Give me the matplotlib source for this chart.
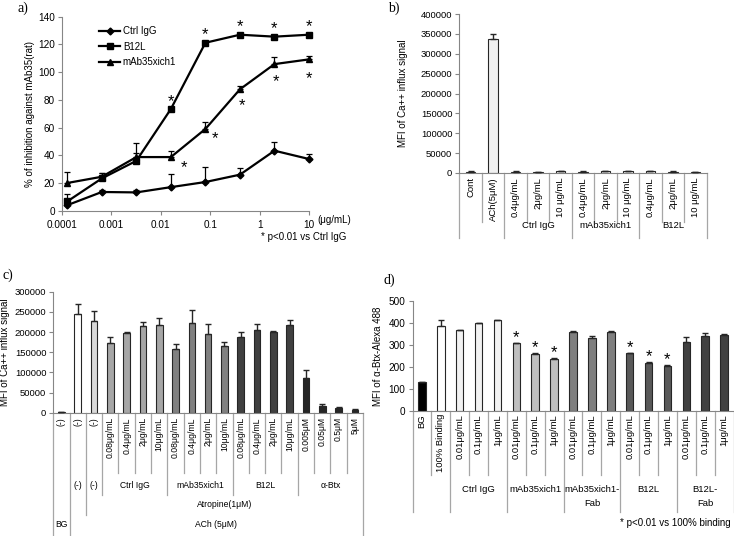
import numpy as np
import matplotlib
matplotlib.use("Agg")
import matplotlib.pyplot as plt
import matplotlib.transforms as mtransforms

# ---- panel a: inhibition curves ----
conc = [0.000128, 0.00064, 0.0032, 0.016, 0.08, 0.4, 2, 10]
ctrl = [4, 13.5, 13.2, 17, 20.7, 26, 43.3, 37.3]
ctrl_err = [1, 1.5, 2, 9.5, 10.5, 4.5, 6, 3.4]
b12l = [6.7, 23.3, 36, 73.4, 121.2, 127, 125.6, 127]
b12l_err = [5, 4, 13, 0.5, 0.5, 0.5, 0.5, 0.5]
mab = [20, 24.5, 38.7, 38.7, 59, 87.6, 105.8, 109.2]
mab_err = [8, 3, 3, 4.3, 4.7, 2.5, 4.9, 2.2]
b12l_star_idx = [3, 4, 5, 6, 7]
mab_star_idx = [3, 4, 5, 6, 7]
mab_star_off = [(12.7, -5.7), (9.3, -5.3), (2, -11), (1.3, -12.7), (0, -14.7)]  # px

# ---- panel b ----
b_cats = ["Cont", "ACh(5μM)", "0.4μg/mL", "2μg/mL", "10 μg/mL",
          "0.4μg/mL", "2μg/mL", "10 μg/mL", "0.4μg/mL", "2μg/mL", "10 μg/mL"]
b_groups = [("", 0, 1), ("Ctrl IgG", 2, 4), ("mAb35xich1", 5, 7), ("B12L", 8, 10)]
b_vals = [3000, 336000, 3000, 2500, 4500, 3500, 4000, 5000, 5000, 3500, 2500]
b_err = [1000, 14000, 800, 600, 1000, 700, 800, 900, 1000, 800, 600]

# ---- panel c ----
c_cats = ["(-)", "(-)", "(-)",
          "0.08μg/mL", "0.4μg/mL", "2μg/mL", "10μg/mL",
          "0.08μg/mL", "0.4μg/mL", "2μg/mL", "10μg/mL",
          "0.08μg/mL", "0.4μg/mL", "2μg/mL", "10μg/mL",
          "0.005μM", "0.05μM", "0.5μM", "5μM"]
c_lvl2 = [("", 0, 0), ("(-)", 1, 1), ("(-)", 2, 2), ("Ctrl IgG", 3, 6),
          ("mAb35xich1", 7, 10), ("B12L", 11, 14), ("α-Btx", 15, 18)]
c_lvl3 = [("", 0, 1), ("Atropine(1μM)", 2, 18)]
c_lvl4 = [("BG", 0, 0), ("ACh (5μM)", 1, 18)]
c_vals = [1000, 243800, 227000, 172000, 198000, 216000, 216500,
          157000, 223000, 194000, 164500, 187600, 204000, 199000, 217000,
          85000, 16500, 12000, 7400]
c_err = [0, 26000, 26000, 15000, 3000, 8000, 19500, 13000, 31000, 25000,
         11500, 13400, 16000, 4000, 12000, 22000, 5500, 2000, 1600]
c_colors = ["#000000", "#ffffff", "#d9d9d9"] + ["#a6a6a6"] * 4 + ["#808080"] * 4 \
    + ["#404040"] * 4 + ["#262626"] * 4

# ---- panel d ----
d_cats = ["BG", "100% Binding"] + ["0.01μg/mL", "0.1μg/mL", "1μg/mL"] * 5
d_groups = [("", 0, 1), ("Ctrl IgG", 2, 4), ("mAb35xich1", 5, 7),
            ("mAb35xich1-\nFab", 8, 10), ("B12L", 11, 13), ("B12L-\nFab", 14, 16)]
d_vals = [129, 386, 367, 398, 412, 307, 259, 236, 359, 333, 359, 262, 217, 206, 314, 339, 345]
d_err = [0, 28, 2, 2, 2, 3, 4, 4, 2, 9, 2, 2, 7, 3, 21, 16, 3]
d_star_idx = [5, 6, 7, 11, 12, 13]
d_colors = ["#000000", "#ffffff"] + ["#f2f2f2"] * 3 + ["#bfbfbf"] * 3 + ["#7f7f7f"] * 3 \
    + ["#595959"] * 3 + ["#404040"] * 3

W, H = 734, 536
plt.rcParams['font.family'] = ['Liberation Sans', 'DejaVu Sans']
AX_GRAY = '#868686'
SEP_GRAY = '#a6a6a6'
PT = 0.72  # points per pixel at dpi 100

fig = plt.figure(figsize=(W / 100, H / 100), dpi=100)


def fy(px):
    return 1 - px / H


def px_axes(l, t, r, b, fs):
    ax = fig.add_axes([l / W, 1 - b / H, (r - l) / W, (b - t) / H])
    for s in ('top', 'right'):
        ax.spines[s].set_visible(False)
    for s in ('left', 'bottom'):
        ax.spines[s].set_color(AX_GRAY)
        ax.spines[s].set_linewidth(0.8)
    ax.tick_params(colors=AX_GRAY, labelcolor='black', length=3, width=0.8, labelsize=fs)
    ax.tick_params(axis='y', pad=2)
    ax.patch.set_alpha(0)
    return ax


def hier_axis(ax, level1, spans, bottoms, label_top, l1_top, fs):
    n = len(level1)
    tr = mtransforms.blended_transform_factory(ax.transData, fig.transFigure)
    ax.set_xlim(-0.5, n - 0.5)
    ax.set_xticks([])
    y0 = ax.get_position().y0
    for i, lab in enumerate(level1):
        ax.text(i, fy(l1_top), lab, rotation=90, ha='center', va='top',
                transform=tr, fontsize=fs)
    bounds = [set(range(n + 1))]
    for sp in spans:
        bs = {0, n}
        for lab, i0, i1 in sp:
            bs.add(i0)
            bs.add(i1 + 1)
        bounds.append(bs)
    for k in range(n + 1):
        depth = max(L for L, bs in enumerate(bounds) if k in bs)
        ax.plot([k - 0.5, k - 0.5], [y0, fy(bottoms[depth])], color=SEP_GRAY,
                lw=0.9, transform=tr, clip_on=False)
    for L, sp in enumerate(spans):
        for lab, i0, i1 in sp:
            if lab:
                ax.text((i0 + i1) / 2, fy(label_top[L]), lab, ha='center', va='top',
                        transform=tr, fontsize=fs, linespacing=1.75)


def bars(ax, vals, err, colors, width):
    x = np.arange(len(vals))
    ax.bar(x, vals, width=width, color=colors, edgecolor='#262626', linewidth=0.8, zorder=2)
    ax.errorbar(x, vals, yerr=[np.zeros(len(vals)), err], fmt='none', ecolor='#262626',
                elinewidth=1.0, capsize=2.5, capthick=1.0, zorder=3)
    return x


def star(ax, x, y, dx_px, dy_px, fs=12):
    # asterisk glyph centre sits ~0.58 em above the baseline
    ax.annotate('*', (x, y), xytext=(dx_px * PT, dy_px * PT - 0.56 * fs),
                textcoords='offset points', ha='center', va='baseline', fontsize=fs,
                annotation_clip=False)


def panel_label(x, y, s):
    fig.text(x / W, fy(y), s, family='Liberation Serif', fontsize=10, ha='left', va='center')


# ================= a =================
ax = px_axes(62, 16.7, 309, 210.7, 7.2)
ax.set_xscale('log')
ax.set_xlim(1e-4, 10)
ax.set_ylim(0, 140)
ax.set_yticks(np.arange(0, 141, 20))
ax.set_xticks([1e-4, 1e-3, 1e-2, 1e-1, 1, 10])
ax.set_xticklabels(['0.0001', '0.001', '0.01', '0.1', '1', '10'])
ax.minorticks_off()
ax.tick_params(axis='x', pad=4)
for vals, err, m, lab in [(ctrl, ctrl_err, 'D', 'Ctrl IgG'),
                          (b12l, b12l_err, 's', 'B12L'),
                          (mab, mab_err, '^', 'mAb35xich1')]:
    ax.errorbar(conc, vals, yerr=[np.zeros(len(vals)), err], color='black', marker=m,
                ms=4.5 if m != 'D' else 3.5, lw=1.6, elinewidth=0.9, capsize=2.5,
                capthick=0.9, label=lab, clip_on=False, zorder=3)
for i in b12l_star_idx:
    star(ax, conc[i], b12l[i], 0, 12.5)
for i, (dx, dy) in zip(mab_star_idx, mab_star_off):
    star(ax, conc[i], mab[i], dx, dy)
h, l = ax.get_legend_handles_labels()
h = [hh[0] for hh in h]
ax.legend(h, l, loc='upper left', bbox_to_anchor=(0.13, 0.975), frameon=False, fontsize=7,
          handlelength=2.2, handletextpad=0.25, labelspacing=0.55, borderpad=0, numpoints=1)
fig.text(30 / W, fy(113.7), '% of inhibition against mAb35(rat)', rotation=90,
         ha='center', va='center', fontsize=7)
fig.text(317 / W, fy(220), '(μg/mL)', ha='left', va='center', fontsize=7)
fig.text(261 / W, fy(236.7), '* p<0.01 vs Ctrl IgG', ha='left', va='center', fontsize=7)
panel_label(18, 8, 'a)')

# ================= b =================
ax = px_axes(459.3, 14, 706.7, 173, 6.8)
ax.set_ylim(0, 400000)
ax.set_yticks(np.arange(0, 400001, 50000))
bars(ax, b_vals, b_err, ['#f0f0f0'] * len(b_vals), 0.44)
hier_axis(ax, b_cats, [b_groups], [222, 238], [221.5], 177, 6.8)
fig.text(403 / W, fy(93.5), 'MFI of Ca++ influx signal', rotation=90,
         ha='center', va='center', fontsize=7)
panel_label(388, 8, 'b)')

# ================= c =================
ax = px_axes(53.3, 291.7, 363, 412.7, 6.8)
ax.set_ylim(0, 300000)
ax.set_yticks(np.arange(0, 300001, 50000))
bars(ax, c_vals, c_err, c_colors, 0.41)
hier_axis(ax, c_cats, [c_lvl2, c_lvl3, c_lvl4], [473, 495, 515, 540],
          [481, 500, 520], 417, 6.2)
fig.text(5 / W, fy(352), 'MFI of Ca++ influx signal', rotation=90,
         ha='center', va='center', fontsize=7)
panel_label(3, 275, 'c)')

# ================= d =================
ax = px_axes(412.5, 301, 733.5, 410.7, 7.2)
ax.set_ylim(0, 500)
ax.set_yticks(np.arange(0, 501, 100))
bars(ax, d_vals, d_err, d_colors, 0.4)
for i in d_star_idx:
    star(ax, i, d_vals[i] + d_err[i], 0, 10)
hier_axis(ax, d_cats, [d_groups], [475, 512], [484.5], 414, 6.8)
fig.text(378 / W, fy(356), 'MFI of α-Btx-Alexa 488', rotation=90,
         ha='center', va='center', fontsize=7)
fig.text(731 / W, fy(523), '* p<0.01 vs 100% binding', ha='right', va='center', fontsize=7)
panel_label(383, 280, 'd)')

fig.savefig('out.png', dpi=100)
